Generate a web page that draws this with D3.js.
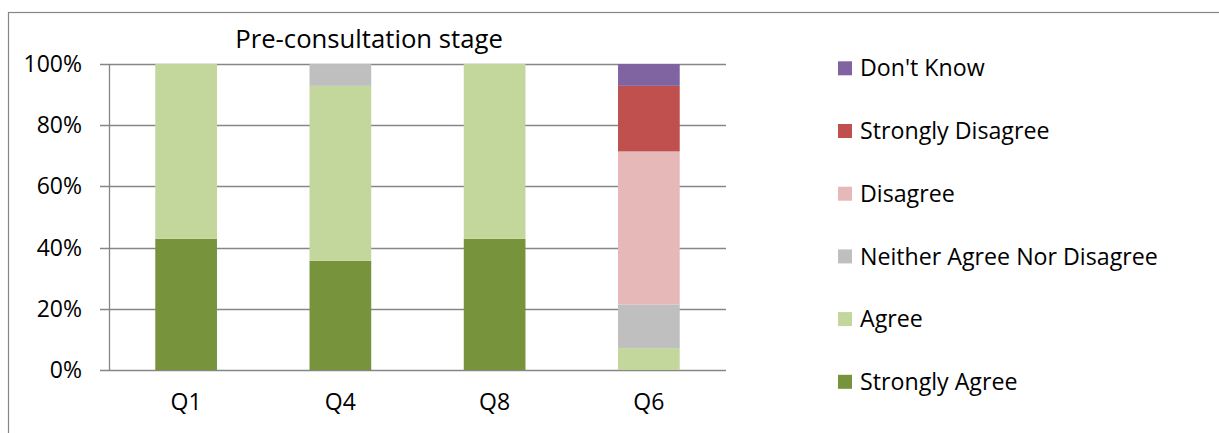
<!DOCTYPE html>
<html>
<head>
<meta charset="utf-8">
<script src="https://cdn.jsdelivr.net/npm/d3@7"></script>
<style>
  html, body { margin: 0; padding: 0; background: #fff; }
  svg { display: block; }
  text { font-family: "Open Sans", "Noto Sans", sans-serif; fill: #000; }
</style>
</head>
<body>
<svg id="chart" width="1219" height="433"></svg>
<script>
// Survey questions and response shares (% of respondents)
const questions = ["Q1", "Q4", "Q8", "Q6"];
const responses = ["Strongly Agree", "Agree", "Neither Agree Nor Disagree", "Disagree", "Strongly Disagree", "Don't Know"];
const stronglyAgree    = [42.86, 35.71, 42.86, 0];
const agree            = [57.14, 57.14, 57.14, 7.14];
const neither          = [0, 7.14, 0, 14.29];
const disagree         = [0, 0, 0, 50.00];
const stronglyDisagree = [0, 0, 0, 21.43];
const dontKnow         = [0, 0, 0, 7.14];
const yTicks = [0, 20, 40, 60, 80, 100];
const title = "Pre-consultation stage";

const seriesValues = [stronglyAgree, agree, neither, disagree, stronglyDisagree, dontKnow];
const colors = ["#77933C", "#C3D69B", "#BFBFBF", "#E6B9B8", "#C0504D", "#8064A2"];

const rows = questions.map((q, i) => {
  const r = { q };
  responses.forEach((s, j) => { r[s] = seriesValues[j][i]; });
  return r;
});
const stacked = d3.stack().keys(responses)(rows);

const svg = d3.select("#chart");
const plot = { left: 109, right: 726, top: 64, bottom: 370 };

const x = d3.scaleBand().domain(questions).range([plot.left, plot.right])
  .paddingInner(0.6).paddingOuter(0.3);
const y = d3.scaleLinear().domain([0, 100]).range([plot.bottom, plot.top]);
const color = d3.scaleOrdinal().domain(responses).range(colors);

// chart frame
svg.append("rect")
  .attr("x", 8.5).attr("y", 12.5).attr("width", 1400).attr("height", 600)
  .attr("fill", "none").attr("stroke", "#868686").attr("stroke-width", 1.2);

// gridlines
svg.append("g").selectAll("line").data(yTicks).join("line")
  .attr("x1", plot.left - 9).attr("x2", plot.right)
  .attr("y1", d => Math.round(y(d)) + 0.5).attr("y2", d => Math.round(y(d)) + 0.5)
  .attr("stroke", "#868686").attr("stroke-width", 1.3);

// bars
svg.append("g").selectAll("g").data(stacked).join("g")
  .attr("fill", d => color(d.key))
  .selectAll("rect").data(d => d.filter(p => p[1] - p[0] > 0)).join("rect")
  .attr("x", d => x(d.data.q))
  .attr("width", x.bandwidth())
  .attr("y", d => y(d[1]))
  .attr("height", d => y(d[0]) - y(d[1]));

// y axis line
svg.append("line")
  .attr("x1", plot.left + 0.5).attr("x2", plot.left + 0.5)
  .attr("y1", y(100)).attr("y2", y(0) + 1)
  .attr("stroke", "#868686").attr("stroke-width", 1.3);

// y tick labels
svg.append("g").selectAll("text").data(yTicks).join("text")
  .attr("x", 82).attr("y", d => y(d))
  .attr("dy", "0.35em")
  .attr("text-anchor", "end")
  .style("font-size", "23px")
  .text(d => d + "%");

// x labels
svg.append("g").selectAll("text").data(questions).join("text")
  .attr("x", d => x(d) + x.bandwidth() / 2)
  .attr("y", 410)
  .attr("text-anchor", "middle")
  .style("font-size", "23px")
  .text(d => d);

// title
svg.append("text")
  .attr("x", 369).attr("y", 48)
  .attr("text-anchor", "middle")
  .style("font-size", "25.7px")
  .text(title);

// legend (reverse stacking order)
const legendItems = responses.slice().reverse();
const lg = svg.append("g").selectAll("g").data(legendItems).join("g")
  .attr("transform", (d, i) => `translate(838, ${68.3 + i * 62.7})`);
lg.append("rect")
  .attr("x", 0).attr("y", -7).attr("width", 14).attr("height", 14)
  .attr("fill", d => color(d));
lg.append("text")
  .attr("x", 22).attr("y", 0).attr("dy", "0.35em")
  .style("font-size", "23.2px")
  .text(d => d);
</script>
</body>
</html>
